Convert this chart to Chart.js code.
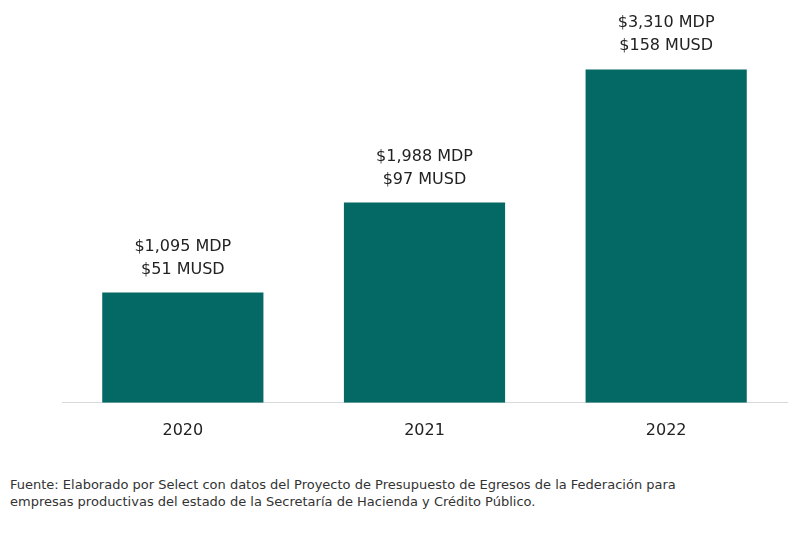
<!DOCTYPE html>
<html>
<head>
<meta charset="utf-8">
<script src="https://cdn.jsdelivr.net/npm/chart.js@4"></script>
<style>
  body { margin: 0; background: #fff; font-family: "DejaVu Sans", Verdana, sans-serif; }
  #wrap { position: relative; width: 800px; height: 450px; }
  #note { position: absolute; left: 10px; top: 476px; font-size: 13px; line-height: 17px; color: #333; width: 780px; }
</style>
</head>
<body>
<div id="wrap"><canvas id="chart"></canvas></div>
<div id="note">Fuente: Elaborado por Select con datos del Proyecto de Presupuesto de Egresos de la Federación para<br>empresas productivas del estado de la Secretaría de Hacienda y Crédito Público.</div>
<script>
// data
const years = ['2020', '2021', '2022'];
const mdp = [1095, 1988, 3310];
const musd = [51, 97, 158];

// labels above each bar
const barLabels = {
	id: 'barLabels',
	afterDatasetsDraw(chart) {
		const ctx = chart.ctx;
		const meta = chart.getDatasetMeta(0);
		ctx.save();
		ctx.font = '16px "DejaVu Sans"';
		ctx.fillStyle = '#222';
		ctx.textAlign = 'center';
		meta.data.forEach((bar, i) => {
			ctx.fillText('$' + mdp[i].toLocaleString('en-US') + ' MDP', bar.x, bar.y - 42);
			ctx.fillText('$' + musd[i] + ' MUSD', bar.x, bar.y - 19);
		});
		ctx.restore();
	}
};

new Chart(document.getElementById('chart').getContext('2d'), {
	type: 'bar',
	data: {
		labels: years,
		datasets: [{
			data: mdp,
			backgroundColor: '#046865',
			categoryPercentage: 1,
			barPercentage: 0.667,
		}],
	},
	options: {
		responsive: true,
		maintainAspectRatio: false,
		animation: false,
		layout: { padding: { left: 62, right: 13, top: 0, bottom: 0 } },
		plugins: { legend: { display: false }, tooltip: { enabled: false } },
		scales: {
			x: {
				grid: { display: false },
				border: { color: '#d9d9d9' },
				ticks: { color: '#222', font: { family: 'DejaVu Sans', size: 16 }, padding: 10 },
			},
			y: { display: false, min: 0, max: 4000 },
		},
	},
	plugins: [barLabels],
});
</script>
</body>
</html>
